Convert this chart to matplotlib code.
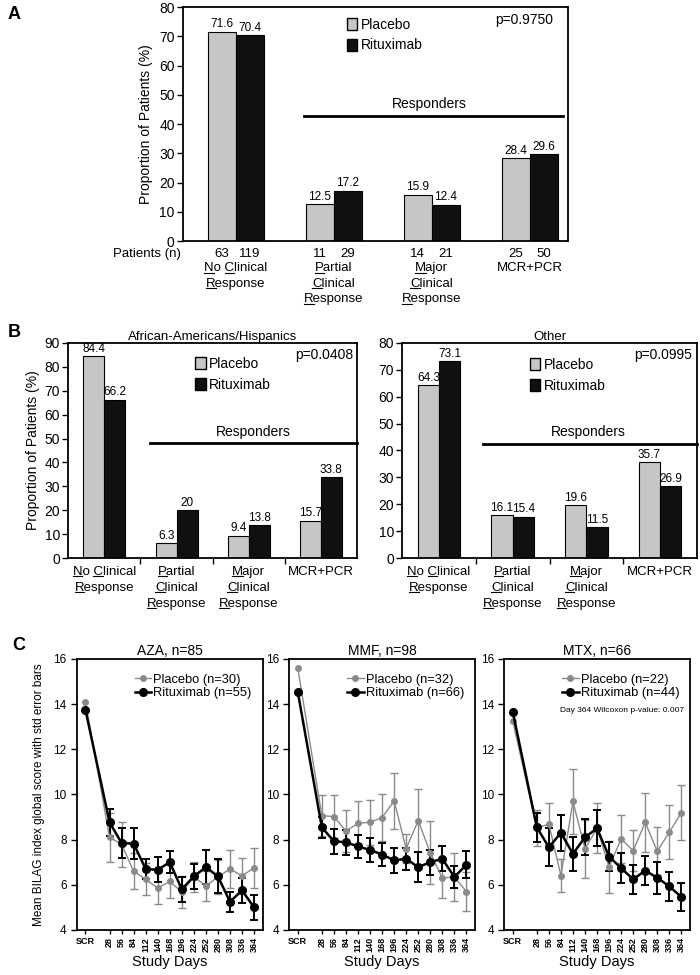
import matplotlib
matplotlib.use("Agg")
import matplotlib.pyplot as plt
from matplotlib.patches import Patch
from matplotlib.lines import Line2D
import numpy as np

plt.rcParams['font.family'] = ['Liberation Sans', 'DejaVu Sans']

# ---------------- data ----------------
# "_" marks an underlined initial
cat_labels = ["_No _Clinical\n_Response",
              "_Partial\n_Clinical\n_Response",
              "_Major\n_Clinical\n_Response",
              "MCR+PCR"]

a_placebo = [71.6, 12.5, 15.9, 28.4]
a_ritux = [70.4, 17.2, 12.4, 29.6]
a_n_placebo = [63, 11, 14, 25]
a_n_ritux = [119, 29, 21, 50]

b_aa_placebo = [84.4, 6.3, 9.4, 15.7]
b_aa_ritux = [66.2, 20, 13.8, 33.8]
b_oth_placebo = [64.3, 16.1, 19.6, 35.7]
b_oth_ritux = [73.1, 15.4, 11.5, 26.9]

days = ["SCR", "28", "56", "84", "112", "140", "168", "196", "224", "252",
        "280", "308", "336", "364"]

nan = np.nan
aza_placebo = [14.1, 8.1, 7.8, 6.6, 6.25, 5.85, 6.15, 5.68, 6.35, 5.95, 6.35, 6.7, 6.4, 6.75]
aza_placebo_se = [nan, 1.1, 1.0, 0.8, 0.7, 0.7, 0.75, 0.7, 0.65, 0.65, 0.75, 0.85, 0.8, 0.9]
aza_ritux = [13.75, 8.77, 7.85, 7.82, 6.7, 6.66, 7.0, 5.8, 6.37, 6.78, 6.37, 5.25, 5.75, 5.0]
aza_ritux_se = [nan, 0.6, 0.65, 0.7, 0.45, 0.55, 0.5, 0.55, 0.55, 0.75, 0.75, 0.45, 0.55, 0.55]

mmf_placebo = [15.6, 9.06, 9.02, 8.38, 8.72, 8.77, 8.97, 9.72, 7.6, 8.84, 7.42, 6.3, 6.34, 5.7]
mmf_placebo_se = [nan, 0.9, 0.95, 0.95, 1.0, 1.0, 1.05, 1.25, 0.65, 1.4, 1.4, 0.9, 1.05, 0.85]
mmf_ritux = [14.55, 8.54, 7.93, 7.88, 7.7, 7.54, 7.34, 7.08, 7.15, 6.78, 7.0, 7.15, 6.35, 6.88]
mmf_ritux_se = [nan, 0.45, 0.55, 0.55, 0.5, 0.55, 0.5, 0.55, 0.5, 0.65, 0.55, 0.55, 0.5, 0.6]

mtx_placebo = [13.26, 8.5, 8.69, 6.41, 9.69, 7.59, 8.5, 6.78, 8.03, 7.51, 8.76, 7.49, 8.32, 9.2]
mtx_placebo_se = [nan, 0.8, 0.95, 0.75, 1.45, 1.3, 1.1, 1.15, 1.05, 0.9, 1.3, 1.05, 1.2, 1.2]
mtx_ritux = [13.67, 8.55, 7.66, 8.3, 7.37, 8.1, 8.5, 7.25, 6.74, 6.24, 6.63, 6.31, 5.93, 5.46]
mtx_ritux_se = [nan, 0.65, 0.85, 0.8, 0.75, 0.8, 0.8, 0.65, 0.65, 0.65, 0.65, 0.7, 0.65, 0.6]

PLACEBO_C = "#c6c6c6"
RITUX_C = "#101010"
LINE_GRAY = "#8a8a8a"

pending_underlines = []


def category_label(ax, x, y0, label, fs, line_h):
    """Write a multi-line label; remember which letters need an underline."""
    xt = ax.get_xaxis_transform()
    for j, line in enumerate(label.split("\n")):
        clean, idxs = "", []
        for ch in line:
            if ch == "_":
                idxs.append(len(clean))
            else:
                clean += ch
        t = ax.text(x, y0 - j * line_h, clean, transform=xt, ha="center", va="top", fontsize=fs)
        if idxs:
            pending_underlines.append((t, clean, idxs))


def draw_underlines(fig):
    fig.canvas.draw()
    r = fig.canvas.get_renderer()
    inv = fig.transFigure.inverted()
    for t, clean, idxs in pending_underlines:
        prop = t.get_fontproperties()
        bb = t.get_window_extent(r)
        desc = max(r.get_text_width_height_descent(clean, prop, ismath=False)[2],
                   r.get_text_width_height_descent("lp", prop, ismath=False)[2])
        base = bb.y0 + desc - 1.6
        for i in idxs:
            right = r.get_text_width_height_descent(clean[:i + 1], prop, ismath=False)[0]
            w = r.get_text_width_height_descent(clean[i], prop, ismath=False)[0]
            p = inv.transform([(bb.x0 + right - w, base), (bb.x0 + right, base)])
            fig.add_artist(Line2D(p[:, 0], p[:, 1], transform=fig.transFigure,
                                  color="black", lw=0.8))


def draw_bars(ax, placebo, ritux, ymax, pval, xlim, resp_line, resp_text,
              leg_anchor, width=0.29, fs=9, vfs=8.5):
    x = np.arange(len(placebo))
    ax.bar(x - width / 2, placebo, width, color=PLACEBO_C, edgecolor="black", lw=0.8)
    ax.bar(x + width / 2, ritux, width, color=RITUX_C, edgecolor="black", lw=0.8)
    for xi, v in zip(x - width / 2, placebo):
        ax.text(xi, v + ymax * 0.006, f"{v:g}", ha="center", va="bottom", fontsize=vfs)
    for xi, v in zip(x + width / 2, ritux):
        ax.text(xi, v + ymax * 0.006, f"{v:g}", ha="center", va="bottom", fontsize=vfs)
    ax.set_xlim(*xlim)
    ax.set_ylim(0, ymax)
    ax.set_yticks(np.arange(0, ymax + 1, 10))
    ax.tick_params(axis="y", labelsize=fs, length=4, width=1, direction="out", pad=2)
    for s in ax.spines.values():
        s.set_linewidth(1.3)
    x0, x1, yl = resp_line
    ax.plot([x0, x1], [yl, yl], color="black", lw=2, clip_on=False)
    ax.text(resp_text[0], resp_text[1], "Responders", ha="center", va="center", fontsize=fs)
    ax.text(0.885, 0.944, pval, transform=ax.transAxes, ha="center", va="center", fontsize=fs)
    handles = [Patch(facecolor=PLACEBO_C, edgecolor="black", label="Placebo"),
               Patch(facecolor=RITUX_C, edgecolor="black", label="Rituximab")]
    ax.legend(handles=handles, loc="upper left", bbox_to_anchor=leg_anchor, frameon=False,
              fontsize=fs, handlelength=0.75, handleheight=1.0, handletextpad=0.25,
              labelspacing=0.5, borderpad=0, borderaxespad=0)


fig = plt.figure(figsize=(7, 9.75), dpi=100)

# ---------------- Panel A ----------------
axA = fig.add_axes([0.2614, 0.7528, 0.55, 0.24])
draw_bars(axA, a_placebo, a_ritux, 80, "p=0.9750", (-0.54, 3.39),
          (0.70, 3.34, 42.6), (1.97, 46.7), (0.425, 0.955), width=0.285, fs=10, vfs=8.5)
axA.set_xticks([])
axA.set_ylabel("Proportion of Patients (%)", fontsize=10, labelpad=4)
xt = axA.get_xaxis_transform()
axA.text(-0.56, -0.055, "Patients (n)", transform=xt, ha="right", va="center", fontsize=9.5)
for i in range(4):
    axA.text(i - 0.1425, -0.055, str(a_n_placebo[i]), transform=xt, ha="center", va="center", fontsize=9.5)
    axA.text(i + 0.1425, -0.055, str(a_n_ritux[i]), transform=xt, ha="center", va="center", fontsize=9.5)
    category_label(axA, i, -0.09, cat_labels[i], 9.5, 0.066)
fig.text(0.011, 0.985, "A", fontsize=13, fontweight="bold", ha="left", va="center")

# ---------------- Panel B ----------------
axB1 = fig.add_axes([0.0976, 0.4274, 0.4124, 0.2211])
draw_bars(axB1, b_aa_placebo, b_aa_ritux, 90, "p=0.0408", (-0.5, 3.5),
          (0.63, 3.5, 48.3), (2.06, 52.8), (0.44, 0.935), width=0.29, fs=10, vfs=8.5)
axB1.set_ylabel("Proportion of Patients (%)", fontsize=10, labelpad=3)
axB1.set_title("African-Americans/Hispanics", fontsize=9.5, pad=1.5)

axB2 = fig.add_axes([0.5747, 0.4274, 0.4206, 0.2211])
draw_bars(axB2, b_oth_placebo, b_oth_ritux, 80, "p=0.0995", (-0.5, 3.5),
          (0.60, 3.5, 42.4), (2.03, 46.7), (0.434, 0.93), width=0.29, fs=10, vfs=8.5)
axB2.set_title("Other", fontsize=9.5, pad=1.5)

for ax in (axB1, axB2):
    ax.set_xticks([0.5, 1.5, 2.5])
    ax.set_xticklabels([])
    ax.tick_params(axis="x", length=4, width=1, direction="out")
    for i in range(4):
        category_label(ax, i, -0.035, cat_labels[i], 9.5, 0.074)
fig.text(0.011, 0.659, "B", fontsize=13, fontweight="bold", ha="left", va="center")

# ---------------- Panel C ----------------
xpos = [0] + list(range(2, 15))
panels = [
    ("AZA, n=85", 0.110, aza_placebo, aza_placebo_se, aza_ritux, aza_ritux_se, 30, 55),
    ("MMF, n=98", 0.4133, mmf_placebo, mmf_placebo_se, mmf_ritux, mmf_ritux_se, 32, 66),
    ("MTX, n=66", 0.7204, mtx_placebo, mtx_placebo_se, mtx_ritux, mtx_ritux_se, 22, 44),
]
for k, (title, left, pl, pl_se, rx, rx_se, npl, nrx) in enumerate(panels):
    ax = fig.add_axes([left, 0.0462, 0.265, 0.278])
    ax.errorbar(xpos, pl, yerr=pl_se, color=LINE_GRAY, ecolor=LINE_GRAY, lw=1.0,
                marker="o", ms=4, capsize=3.2, elinewidth=1.0, capthick=1.0)
    ax.errorbar(xpos, rx, yerr=rx_se, color="black", ecolor="black", lw=1.8,
                marker="o", ms=5.5, capsize=3, elinewidth=1.4, capthick=1.4)
    ax.set_xlim(-0.7, 14.7)
    ax.set_ylim(4, 16)
    ax.set_yticks(range(4, 17, 2))
    ax.set_xticks(xpos)
    ax.set_xticklabels(days, fontsize=6.5, fontweight="bold")
    for lab in ax.get_xticklabels()[1:]:
        lab.set_rotation(90)
    ax.tick_params(axis="x", length=3, width=1, pad=2)
    ax.tick_params(axis="y", labelsize=8.5, length=4, width=1)
    for s in ax.spines.values():
        s.set_linewidth(1.3)
    ax.set_xlabel("Study Days", fontsize=10.5, labelpad=2)
    ax.set_title(title, fontsize=10, pad=3)
    handles = [Line2D([0], [0], color=LINE_GRAY, lw=1.0, marker="o", ms=4,
                      label=f"Placebo (n={npl})"),
               Line2D([0], [0], color="black", lw=1.8, marker="o", ms=5.5,
                      label=f"Rituximab (n={nrx})")]
    ax.legend(handles=handles, loc="upper left", bbox_to_anchor=(0.31, 0.945), frameon=False,
              fontsize=9.3, handlelength=1.3, handletextpad=0.15, labelspacing=0.12,
              borderpad=0, borderaxespad=0)
    if k == 0:
        ax.set_ylabel("Mean BILAG index global score with std error bars", fontsize=8.5,
                      labelpad=6)
    if k == 2:
        ax.text(0.97, 0.81, "Day 364 Wilcoxon p-value: 0.007", transform=ax.transAxes,
                ha="right", va="center", fontsize=6)
fig.text(0.017, 0.338, "C", fontsize=13, fontweight="bold", ha="left", va="center")

draw_underlines(fig)
fig.savefig("out.png", dpi=100)
